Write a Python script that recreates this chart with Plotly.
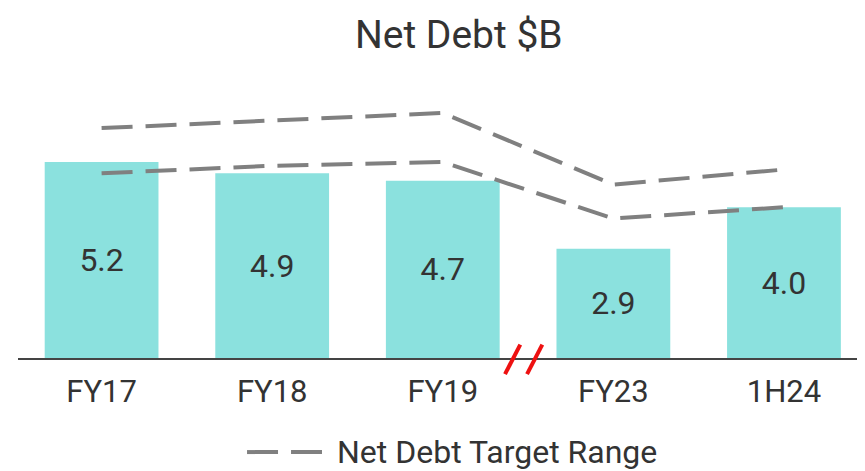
import plotly.graph_objects as go

categories = ["FY17", "FY18", "FY19", "FY23", "1H24"]
net_debt = [5.2, 4.9, 4.7, 2.9, 4.0]
target_upper = [6.1, 6.3, 6.5, 4.6, 5.0]
target_lower = [4.9, 5.1, 5.2, 3.7, 4.0]
bar_labels = ["5.2", "4.9", "4.7", "2.9", "4.0"]
legend_label = "Net Debt Target Range"

FONT = "Roboto"
TXT = "#333333"
LINE = "#808080"
DASH = "31px,13px"

fig = go.Figure()
fig.add_trace(go.Bar(
    x=categories, y=net_debt, text=bar_labels,
    textposition="inside", insidetextanchor="middle",
    textfont=dict(family=FONT, size=32, color=TXT),
    marker=dict(color="#8be1de", line=dict(width=0)),
    showlegend=False, hoverinfo="skip",
))
fig.add_trace(go.Scatter(
    x=categories, y=target_upper, mode="lines",
    line=dict(color=LINE, width=4, dash=DASH),
    name=legend_label, showlegend=False,
))
fig.add_trace(go.Scatter(
    x=categories, y=target_lower, mode="lines",
    line=dict(color=LINE, width=4, dash=DASH),
    name=legend_label, showlegend=False,
))

# axis break marker (decoration, paper coordinates)
for x0 in (0.575, 0.601):
    fig.add_shape(type="line", xref="paper", yref="paper",
                  x0=x0, y0=-0.06, x1=x0 + 0.018, y1=0.05,
                  line=dict(color="#ee1111", width=4))

# legend (drawn as a key line + label)
fig.add_shape(type="line", xref="paper", yref="paper",
              x0=0.2704, x1=0.3589, y0=-0.351, y1=-0.351,
              line=dict(color=LINE, width=4, dash=DASH))
fig.add_annotation(text=legend_label, xref="paper", yref="paper",
                   x=0.3743, y=-0.351, xanchor="left", yanchor="middle",
                   showarrow=False,
                   font=dict(family=FONT, size=32, color=TXT))

fig.update_layout(
    width=857, height=463,
    margin=dict(l=10, r=0, t=82, b=113, autoexpand=False),
    paper_bgcolor="white", plot_bgcolor="white",
    bargap=0.333,
    title=dict(text="Net Debt $B", x=0.526, xanchor="center",
               y=1 - 26 / 463, yanchor="middle", yref="container",
               font=dict(family=FONT, size=39, color=TXT)),
    xaxis=dict(range=[-0.49, 4.475], showgrid=False, showline=True,
               linecolor="#444444", linewidth=2, ticks="",
               ticklabelstandoff=5,
               tickfont=dict(family=FONT, size=31, color=TXT),
               fixedrange=True),
    yaxis=dict(range=[0, 7.11], visible=False, showgrid=False,
               zeroline=False, fixedrange=True),
    showlegend=False,
)

fig.write_html("out.html")
